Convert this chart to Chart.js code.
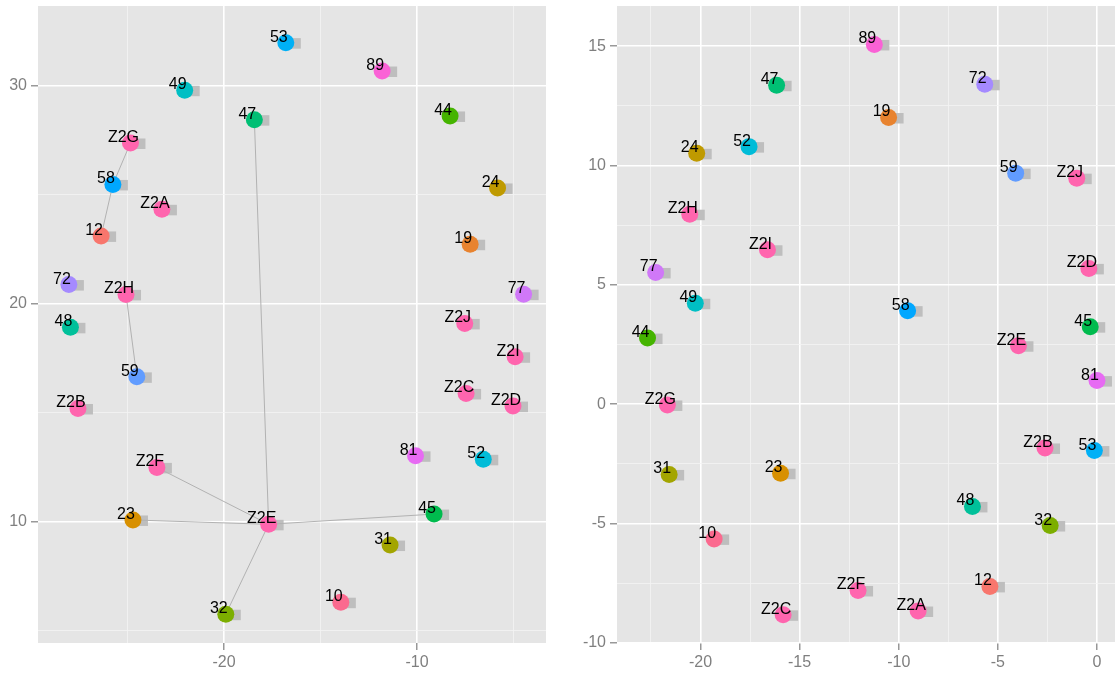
<!DOCTYPE html>
<html><head><meta charset="utf-8">
<script src="https://cdn.jsdelivr.net/npm/chart.js@4/dist/chart.umd.min.js"></script>
<style>
html,body{margin:0;padding:0;background:#fff;width:1115px;height:676px;overflow:hidden}
#l{position:absolute;left:0;top:0}
#r{position:absolute;left:560px;top:0}
</style></head><body>
<canvas id="l" width="556" height="676"></canvas>
<canvas id="r" width="555" height="676"></canvas>
<script>
// ---- left panel data ----
const leftLabels = ['53','89','49','47','44','Z2G','58','Z2A','24','12','19','72','Z2H','77','48','Z2J','59','Z2I','Z2B','Z2C','Z2D','81','52','Z2F','23','Z2E','45','31','10','32'];
const leftX = [-16.80,-11.81,-22.04,-18.43,-8.29,-24.85,-25.76,-23.22,-5.83,-26.37,-7.25,-28.04,-25.08,-4.48,-27.96,-7.53,-24.52,-4.92,-27.57,-7.46,-5.03,-10.08,-6.57,-23.48,-24.72,-17.69,-9.12,-11.40,-13.95,-19.91];
const leftY = [31.96,30.66,29.78,28.43,28.60,27.36,25.46,24.32,25.30,23.10,22.72,20.87,20.42,20.43,18.91,19.09,16.64,17.56,15.19,15.88,15.30,13.02,12.86,12.49,10.08,9.88,10.35,8.93,6.31,5.76];
const leftEdges = [['Z2G','58'],['58','12'],['Z2H','59'],['47','Z2E'],['Z2F','Z2E'],['23','Z2E'],['45','Z2E'],['32','Z2E']];
const leftXTicks = [-20,-10];
const leftXMinor = [-25,-15,-5];
const leftYTicks = [10,20,30];
const leftYMinor = [5,15,25];

// ---- right panel data ----
const rightLabels = ['89','47','72','19','24','52','59','Z2J','Z2H','Z2I','77','Z2D','49','58','45','44','Z2E','81','Z2G','Z2B','53','31','23','48','32','10','Z2F','12','Z2A','Z2C'];
const rightX = [-11.23,-16.16,-5.66,-10.51,-20.19,-17.55,-4.10,-1.02,-20.54,-16.62,-22.26,-0.41,-20.26,-9.55,-0.34,-22.67,-3.96,0.00,-21.67,-2.62,-0.13,-21.58,-15.96,-6.28,-2.36,-19.31,-12.05,-5.40,-9.02,-15.83];
const rightY = [15.07,13.36,13.40,12.01,10.51,10.79,9.68,9.47,7.96,6.47,5.52,5.69,4.23,3.92,3.25,2.77,2.45,0.99,-0.03,-1.83,-1.94,-2.94,-2.89,-4.28,-5.08,-5.64,-7.80,-7.63,-8.66,-8.82];
const rightEdges = [];
const rightXTicks = [-20,-15,-10,-5,0];
const rightXMinor = [-22.5,-17.5,-12.5,-7.5,-2.5];
const rightYTicks = [-10,-5,0,5,10,15];
const rightYMinor = [-7.5,-2.5,2.5,7.5,12.5];

// ---- styles ----
const colorOf = {
  '10':'#FB6A8F','12':'#F8766D','19':'#E8832F','23':'#D89000','24':'#BF9A00','31':'#A3A500',
  '32':'#7CAE00','44':'#45B400','45':'#00BB4E','47':'#00BF74','48':'#00C09A','49':'#00BFC4',
  '52':'#00BCD8','53':'#00B0F6','58':'#00A7FF','59':'#619CFF','72':'#A58AFF','77':'#D078F8',
  '81':'#E76BF3','89':'#FA62D6','Z2':'#FF65AE'
};
const col = l => colorOf[l] || colorOf[l.slice(0,2)];
const FONT = 'Arial, "Liberation Sans", sans-serif';

function axis(major, minor, range, isX, size, pad){
  return {
    type:'linear', min:range[0], max:range[1],
    afterBuildTicks(s){
      s.ticks = major.map(v=>({value:v, minorTick:false}))
        .concat(minor.map(v=>({value:v, minorTick:true})))
        .sort((a,b)=>a.value-b.value);
    },
    afterFit(s){
      if(isX) s.height=size; else s.width=size;
      s.paddingTop=0; s.paddingBottom=0; s.paddingLeft=0; s.paddingRight=0;
    },
    ticks:{ callback:(v)=> major.includes(v) ? String(v) : '', color:'#7f7f7f',
      font:{family:FONT, size:16}, padding:pad, autoSkip:false, maxRotation:0, includeBounds:false },
    grid:{
      color:c=> (c.tick && c.tick.minorTick) ? '#f4f4f4' : '#ffffff',
      lineWidth:c=> (c.tick && c.tick.minorTick) ? 0.8 : 1.6,
      tickColor:c=> (c.tick && c.tick.minorTick) ? 'rgba(0,0,0,0)' : '#7f7f7f',
      tickLength:7, tickWidth:1.2, drawTicks:true
    },
    border:{display:false}
  };
}

const bgPlugin = {
  id:'bg',
  beforeDraw(chart){
    const a = chart.chartArea, c = chart.ctx;
    c.save(); c.fillStyle='#E5E5E5'; c.fillRect(a.left,a.top,a.right-a.left,a.bottom-a.top); c.restore();
  }
};
const markPlugin = {
  id:'marks',
  beforeDatasetsDraw(chart){
    const meta = chart.getDatasetMeta(0), c = chart.ctx;
    c.save(); c.fillStyle='#BEBEBE';
    meta.data.forEach(p=>{ c.fillRect(p.x+2, p.y-4.5, 13, 10.5); });
    c.restore();
  },
  afterDatasetsDraw(chart){
    const meta = chart.getDatasetMeta(0), c = chart.ctx;
    const ds = chart.data.datasets[0].data;
    c.save(); c.fillStyle='#000'; c.font='16px '+FONT; c.textAlign='center'; c.textBaseline='alphabetic';
    meta.data.forEach((p,i)=>{ c.fillText(ds[i].label, p.x-7, p.y-1); });
    c.restore();
  }
};

function makeChart(id, labels, xs, ys, edges, xMaj, xMin, yMaj, yMin, xr, yr, yw, rightPad){
  const pt = l => { const i = labels.indexOf(l); return {x:xs[i], y:ys[i]}; };
  const datasets = [{
    data: labels.map((l,i)=>({x:xs[i], y:ys[i], label:l})),
    backgroundColor: labels.map(col), borderWidth:0, pointRadius:8.5, order:0, clip:false
  }].concat(edges.map(e=>({
    data:[pt(e[0]), pt(e[1])], showLine:true, borderColor:'#b2b2b2', borderWidth:1,
    pointRadius:0, order:5
  })));
  return new Chart(document.getElementById(id), {
    type:'scatter',
    data:{datasets},
    options:{
      responsive:false, animation:false, devicePixelRatio:1,
      layout:{autoPadding:false, padding:{top:6, right:rightPad, left:0, bottom:0}},
      plugins:{legend:{display:false}, tooltip:{enabled:false}},
      scales:{
        x: axis(xMaj, xMin, xr, true, 33, 3),
        y: axis(yMaj, yMin, yr, false, yw, 4)
      }
    },
    plugins:[bgPlugin, markPlugin]
  });
}

makeChart('l', leftLabels, leftX, leftY, leftEdges, leftXTicks, leftXMinor, leftYTicks, leftYMinor,
  [-29.64,-3.32], [4.44,33.64], 38, 10);
makeChart('r', rightLabels, rightX, rightY, rightEdges, rightXTicks, rightXMinor, rightYTicks, rightYMinor,
  [-24.21,0.91], [-10.0,16.68], 57, 0);
</script>
</body></html>
